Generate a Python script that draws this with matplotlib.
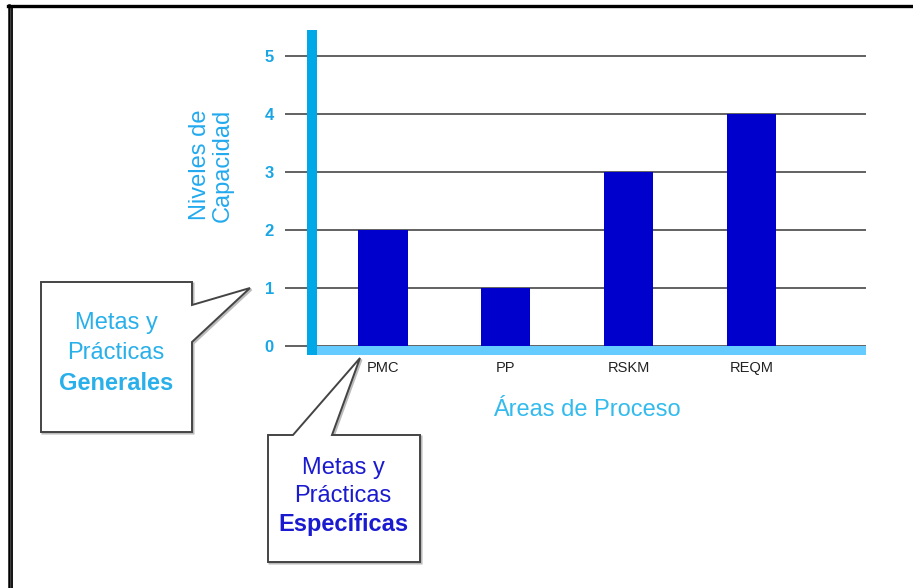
import matplotlib
matplotlib.use("Agg")
import matplotlib.pyplot as plt
from matplotlib.patches import Polygon
from matplotlib.lines import Line2D

plt.rcParams['font.family'] = ['Liberation Sans', 'DejaVu Sans']

# ---- data ----
categories = ["PMC", "PP", "RSKM", "REQM"]
levels = [2, 1, 3, 4]
ytick_values = [0, 1, 2, 3, 4, 5]
ylabel_text = "Niveles de\nCapacidad"
xlabel_text = "Áreas de Proceso"
callout_general = ["Metas y", "Prácticas", "Generales"]
callout_specific = ["Metas y", "Prácticas", "Específicas"]

W, H = 913, 588
fig = plt.figure(figsize=(W / 100, H / 100), dpi=100)
fig.patch.set_facecolor("white")

def fx(x):
    return x / W

def fy(y):
    return 1 - y / H

# axes placement (pixel coordinates of the reference)
ax_l, ax_r, ax_t, ax_b = 285, 866, 30, 355
ax = fig.add_axes([fx(ax_l), fy(ax_b), (ax_r - ax_l) / W, (ax_b - ax_t) / H])

x = list(range(len(categories)))
ax.bar(x, levels, width=0.4, color="#0000cc", zorder=3)

ax.set_xlim(-0.797, 3.931)
ax.set_ylim(-0.155, 5.45)

ax.set_yticks(ytick_values)
ax.set_yticklabels([str(v) for v in ytick_values], color="#1aa6e4",
                   fontsize=12, fontweight="bold")
ax.set_xticks(x)
ax.set_xticklabels(categories, fontsize=10.5, color="#222222")
ax.tick_params(axis="y", length=0, pad=8)
ax.tick_params(axis="x", length=0, pad=4)

ax.yaxis.grid(True, color="#555555", linewidth=1.3, zorder=1)
ax.set_axisbelow(True)
for s in ax.spines.values():
    s.set_visible(False)
ax.set_facecolor("none")

# axis bars (decoration)
ax.axvline(-0.577, color="#00a8e8", linewidth=7.2, zorder=5, solid_capstyle="butt")
ax.axhline(-0.069, xmin=(307 - ax_l) / (ax_r - ax_l), xmax=1.0,
           color="#66ccff", linewidth=6.5, zorder=4, solid_capstyle="butt")

ax.set_ylabel(ylabel_text, fontsize=17, color="#22aaee", linespacing=1.05,
              va="center")
ax.yaxis.set_label_coords((211 - ax_l) / (ax_r - ax_l), (ax_b - 165) / (ax_b - ax_t))
ax.set_xlabel(xlabel_text, fontsize=17, color="#33bbee", va="center")
ax.xaxis.set_label_coords((587 - ax_l) / (ax_r - ax_l), (ax_b - 410) / (ax_b - ax_t))

# ---- callout boxes ----
def px_poly(pts):
    return [(fx(a), fy(b)) for a, b in pts]

box1 = [(41, 282), (192, 282), (192, 305), (250, 288), (192, 342),
        (192, 432), (41, 432)]
box2 = [(268, 435), (293, 435), (360, 358), (332, 435), (420, 435),
        (420, 562), (268, 562)]
for pts in (box1, box2):
    shadow = Polygon(px_poly([(a + 1.5, b + 1.5) for a, b in pts]), closed=True,
                     facecolor="#bbbbbb", edgecolor="#bbbbbb", linewidth=1.5,
                     transform=fig.transFigure, zorder=9)
    fig.add_artist(shadow)
    poly = Polygon(px_poly(pts), closed=True, facecolor="white",
                   edgecolor="#444444", linewidth=1.4,
                   transform=fig.transFigure, zorder=10)
    fig.add_artist(poly)

for i, (txt, yy) in enumerate(zip(callout_general, [323, 353, 383])):
    fig.text(fx(116), fy(yy), txt, ha="center", va="center", fontsize=17,
             color="#29b0ea", fontweight="bold" if i == 2 else "normal", zorder=11)

for i, (txt, yy) in enumerate(zip(callout_specific, [468, 496, 525])):
    fig.text(fx(343), fy(yy), txt, ha="center", va="center", fontsize=17,
             color="#1a1ad0", fontweight="bold" if i == 2 else "normal", zorder=11)

# ---- page frame ----
fig.add_artist(Line2D([fx(8), 1.0], [fy(6), fy(6)], color="black",
                      linewidth=2.4, transform=fig.transFigure, zorder=12))
fig.add_artist(Line2D([fx(9), fx(9)], [fy(5), 0.0], color="black",
                      linewidth=1.8, transform=fig.transFigure, zorder=12))
fig.add_artist(Line2D([fx(12.3), fx(12.3)], [fy(7), 0.0], color="black",
                      linewidth=1.3, transform=fig.transFigure, zorder=12))

fig.savefig("out.png", dpi=100, facecolor="white")
